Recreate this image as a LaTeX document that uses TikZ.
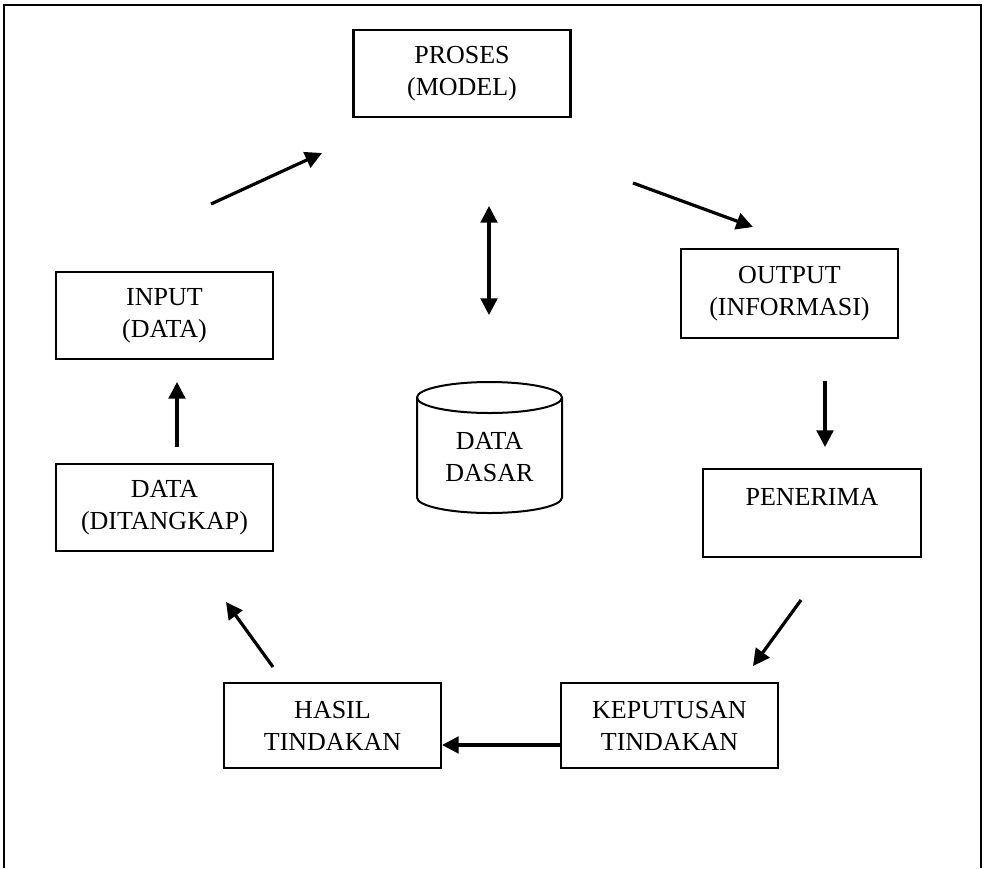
\documentclass[tikz,border=0pt]{standalone}
\usepackage{fontspec}
\setmainfont{Liberation Serif}
\usetikzlibrary{arrows.meta}
\begin{document}
\begin{tikzpicture}[x=0.75pt,y=0.75pt,
  txt/.style={align=center,font=\fontsize{19.5}{24}\selectfont},
  box/.style={txt,draw,line width=1.6pt,minimum width=162.75pt,minimum height=65.25pt,inner sep=0pt},
  link/.style={line width=2.4pt,-{Triangle[length=12.5pt,width=12.5pt]}},
  both/.style={line width=2.4pt,{Triangle[length=12.5pt,width=12.5pt]}-{Triangle[length=12.5pt,width=12.5pt]}}]
\useasboundingbox (0,0) rectangle (984,-868);
% outer frame, open at the bottom
\draw[line width=1.6pt] (4,-868) -- (4,-5) -- (981,-5) -- (981,-868);

% boxes
\node[box] (proses) at (462,-73.5) {PROSES\\(MODEL)};
\node[box] (input) at (164.5,-315.5) {INPUT\\(DATA)};
\node[box] (data) at (164.5,-507.5) {DATA\\(DITANGKAP)};
\node[box,minimum height=66.75pt] (output) at (789.5,-293.5) {OUTPUT\\(INFORMASI)};
\node[box,minimum width=163.5pt,minimum height=66pt] (penerima) at (812,-513) {PENERIMA\\\mbox{}};
\node[box,minimum height=63.75pt] (keputusan) at (669.5,-725.5) {KEPUTUSAN\\TINDAKAN};
\node[box,minimum height=63.75pt] (hasil) at (332.5,-725.5) {HASIL\\TINDAKAN};

% database cylinder
\draw[line width=1.5pt] (417,-397.5) -- (417,-497.5)
  arc[start angle=180,end angle=360,x radius=72.5,y radius=15.5] -- (562,-397.5);
\draw[line width=1.5pt] (489.5,-397.5) ellipse [x radius=72.5,y radius=15.5];
\node[txt] (dasar) at (489.5,-457) {DATA\\DASAR};

% arrow end points
\coordinate (inA) at (211,-204);   \coordinate (inB) at (322,-153);
\coordinate (outA) at (633,-183);  \coordinate (outB) at (753,-227);
\coordinate (dbA) at (489,-206);   \coordinate (dbB) at (489,-315);
\coordinate (recA) at (825,-381);  \coordinate (recB) at (825,-447);
\coordinate (decA) at (801,-600);  \coordinate (decB) at (753,-666);
\coordinate (resA) at (273,-667);  \coordinate (resB) at (226,-602);
\coordinate (capA) at (177,-447);  \coordinate (capB) at (177,-382);

% connectors
\draw[link] (inA) -- (inB);
\draw[link] (outA) -- (outB);
\draw[both] (dbA) -- (dbB);
\draw[link] (recA) -- (recB);
\draw[link] (decA) -- (decB);
\draw[link] ([yshift=-14.6pt]keputusan.west) -- ([yshift=-14.6pt]hasil.east);
\draw[link] (resA) -- (resB);
\draw[link] (capA) -- (capB);
\end{tikzpicture}
\end{document}
